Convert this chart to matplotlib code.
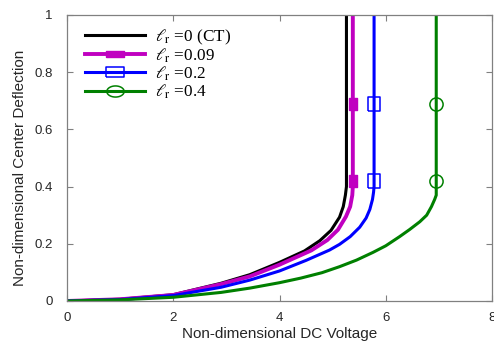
import numpy as np
import matplotlib
matplotlib.use("Agg")
import matplotlib.pyplot as plt
from matplotlib.lines import Line2D

# ---- data ----
V_ct = [0, 1.0, 2.0, 2.9, 3.44, 4.0, 4.47, 4.76, 4.97, 5.13, 5.2, 5.24, 5.26, 5.26, 5.26, 5.26]
w_ct = [0, 0.006, 0.022, 0.062, 0.092, 0.135, 0.175, 0.211, 0.247, 0.293, 0.33, 0.37, 0.40, 0.42, 0.69, 1.0]

V_009 = [0, 1.0, 2.0, 2.9, 3.44, 4.0, 4.6, 4.9, 5.1, 5.25, 5.33, 5.37, 5.38, 5.38, 5.38, 5.38]
w_009 = [0, 0.006, 0.021, 0.059, 0.086, 0.127, 0.177, 0.213, 0.249, 0.295, 0.33, 0.37, 0.40, 0.42, 0.69, 1.0]

V_02 = [0, 1.0, 2.0, 2.9, 3.44, 4.0, 4.5, 4.94, 5.13, 5.33, 5.51, 5.63, 5.70, 5.75, 5.77, 5.78, 5.78, 5.78, 5.78]
w_02 = [0, 0.005, 0.019, 0.048, 0.073, 0.105, 0.142, 0.178, 0.198, 0.225, 0.258, 0.29, 0.32, 0.355, 0.38, 0.40, 0.42, 0.69, 1.0]

V_04 = [0, 1.0, 2.0, 2.9, 3.44, 4.0, 4.4, 4.8, 5.13, 5.45, 5.76, 6.0, 6.26, 6.45, 6.64, 6.77, 6.86, 6.92, 6.95, 6.95, 6.95, 6.95]
w_04 = [0, 0.004, 0.013, 0.030, 0.045, 0.064, 0.080, 0.099, 0.120, 0.143, 0.170, 0.193, 0.225, 0.25, 0.277, 0.30, 0.33, 0.355, 0.37, 0.42, 0.69, 1.0]

labels = [r'$\ell_{\mathrm{r}}$ =0 (CT)', r'$\ell_{\mathrm{r}}$ =0.09',
          r'$\ell_{\mathrm{r}}$ =0.2', r'$\ell_{\mathrm{r}}$ =0.4']
xticks = [0, 2, 4, 6, 8]
yticks = [0, 0.2, 0.4, 0.6, 0.8, 1]
ytick_labels = ['0', '0.2', '0.4', '0.6', '0.8', '1']

# ---- styling ----
plt.rcParams['font.family'] = ['Liberation Sans', 'DejaVu Sans']
plt.rcParams['mathtext.fontset'] = 'stix'
plt.rcParams['lines.solid_joinstyle'] = 'round'

magenta = '#c000c0'
blue = '#0000ff'
green = '#008000'

# marker shapes
rect_tall = [(-0.29, -0.5), (0.29, -0.5), (0.29, 0.5), (-0.29, 0.5), (-0.29, -0.5)]
rect_wide = [(-0.5, -0.2), (0.5, -0.2), (0.5, 0.2), (-0.5, 0.2), (-0.5, -0.2)]
sq_tall = [(-0.42, -0.5), (0.42, -0.5), (0.42, 0.5), (-0.42, 0.5), (-0.42, -0.5)]
sq_wide = [(-0.5, -0.29), (0.5, -0.29), (0.5, 0.29), (-0.5, 0.29), (-0.5, -0.29)]
t = np.linspace(0, 2 * np.pi, 40)
ell_wide = list(zip(0.5 * np.cos(t), 0.32 * np.sin(t)))

fig = plt.figure(figsize=(4.94, 3.42), dpi=100)
ax = fig.add_axes([0.1356, 0.1199, 0.8604, 0.8363])

lw = 2.2
ax.plot(V_ct, w_ct, color='black', lw=lw)
ax.plot(V_009, w_009, color=magenta, lw=2.8)
ax.plot(V_02, w_02, color=blue, lw=lw)
ax.plot(V_04, w_04, color=green, lw=lw)

# markers on the vertical (pull-in) segments
ax.plot(V_009[-3:-1], w_009[-3:-1], ls='none', marker=rect_tall, ms=9,
        mfc=magenta, mec=magenta)
ax.plot(V_02[-3:-1], w_02[-3:-1], ls='none', marker=sq_tall, ms=9.5,
        mfc='none', mec=blue, mew=1.1)
ax.plot(V_04[-3:-1], w_04[-3:-1], ls='none', marker='o', ms=9.5,
        mfc='none', mec=green, mew=1.1)

handles = [
    Line2D([], [], color='black', lw=lw),
    Line2D([], [], color=magenta, lw=2.8, marker=rect_wide, ms=12.5, mfc=magenta, mec=magenta),
    Line2D([], [], color=blue, lw=lw, marker=sq_wide, ms=12.5, mfc='none', mec=blue, mew=1.1),
    Line2D([], [], color=green, lw=lw, marker=ell_wide, ms=12.5, mfc='none', mec=green, mew=1.1),
]
leg = ax.legend(handles, labels, loc='upper left', bbox_to_anchor=(0.026, 0.98),
                frameon=False, handlelength=3.5, handletextpad=0.6,
                labelspacing=-0.02, borderaxespad=0.0,
                prop={'family': ['Liberation Serif'], 'size': 12.3})

ax.set_xlim(0, 8)
ax.set_ylim(0, 1)
ax.set_xticks(xticks)
ax.set_yticks(yticks)
ax.set_yticklabels(ytick_labels)
ax.tick_params(direction='in', length=4, width=0.8, top=True, right=True,
               colors='#808080', labelcolor='#262626', labelsize=9.5)
ax.tick_params(axis='y', pad=10.5)
ax.tick_params(axis='x', pad=8)
for s in ax.spines.values():
    s.set_color('#808080')
    s.set_linewidth(0.9)

ax.set_xlabel('Non-dimensional DC Voltage', fontsize=11, color='#262626')
ax.set_ylabel('Non-dimensional Center Deflection', fontsize=11, color='#262626')
ax.xaxis.set_label_coords(0.5, -0.09)
ax.yaxis.set_label_coords(-0.094, 0.465)

fig.savefig('out.png', dpi=100)
